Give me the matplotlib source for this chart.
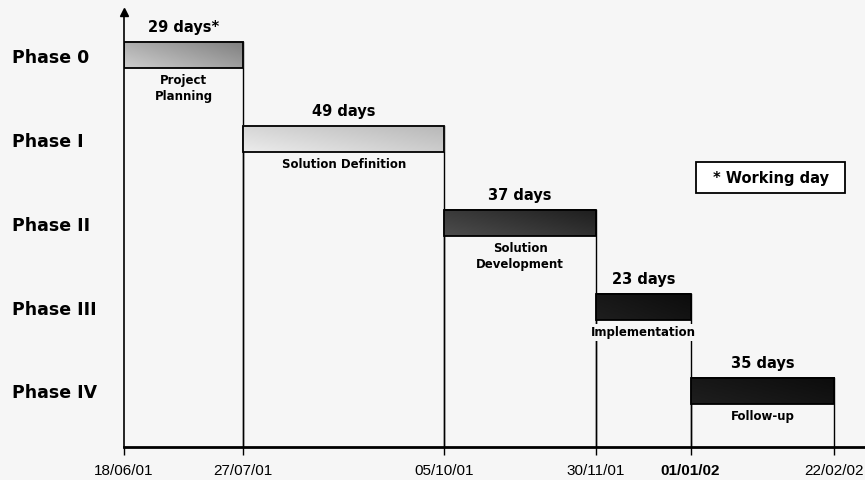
import numpy as np
import matplotlib
matplotlib.use("Agg")
import matplotlib.pyplot as plt
import matplotlib.transforms as mtransforms
from matplotlib.patches import Rectangle

# project schedule (durations in working days)
phases = ["Phase 0", "Phase I", "Phase II", "Phase III", "Phase IV"]
tasks = ["Project\nPlanning", "Solution Definition", "Solution\nDevelopment",
         "Implementation", "Follow-up"]
days = [29, 49, 37, 23, 35]
day_labels = ["29 days*", "49 days", "37 days", "23 days", "35 days"]
milestones = ["18/06/01", "27/07/01", "05/10/01", "30/11/01", "01/01/02", "22/02/02"]

# bar shading: (light, dark) grey levels of each bar's gradient
shades = [(0.80, 0.50), (0.92, 0.72), (0.30, 0.12), (0.12, 0.05), (0.12, 0.05)]

bg = "#f6f6f6"
bold = dict(fontweight="bold", family="DejaVu Sans")

fig = plt.figure(figsize=(8.65, 4.8), dpi=100, facecolor=bg)
ax = fig.add_axes([124 / 865, 1 - 447 / 480, 1 - 124 / 865, (447 - 12) / 480])
ax.set_facecolor("none")

starts = np.concatenate([[0], np.cumsum(days)[:-1]])
ends = np.cumsum(days)
bar_h = 0.32
y_bottom = 4.667

for i, (x0, d) in enumerate(zip(starts, days)):
    top, bot = i - bar_h / 2, i + bar_h / 2
    # diagonal gradient fill
    gx, gy = np.meshgrid(np.linspace(0, 1, 60), np.linspace(0, 1, 12))
    t = 0.6 * gx + 0.4 * (1 - gy)
    lo, hi = shades[i]
    grad = lo + (hi - lo) * t
    ax.imshow(grad, extent=(x0, x0 + d, bot, top), cmap="gray", vmin=0, vmax=1,
              aspect="auto", interpolation="bicubic", zorder=2)
    ax.add_patch(Rectangle((x0, top), d, bar_h, fill=False, edgecolor="black",
                           lw=1.3, zorder=3))
    # edges dropped to the time axis
    for xv in (x0, x0 + d):
        if xv > 0:
            ax.plot([xv, xv], [top, y_bottom], color="black", lw=1, zorder=1)
    ax.annotate(day_labels[i], (x0 + d / 2, top), xytext=(0, 5),
                textcoords="offset points", ha="center", va="bottom",
                fontsize=10.5, **bold)
    ax.annotate(tasks[i], (x0 + d / 2, bot), xytext=(0, -4),
                textcoords="offset points", ha="center", va="top",
                fontsize=8.5, linespacing=1.3, zorder=4,
                bbox=dict(boxstyle="square,pad=0.15", fc=bg, ec="none"), **bold)

# phase names on the left
tr = mtransforms.blended_transform_factory(fig.transFigure, ax.transData)
for i, name in enumerate(phases):
    ax.text(12 / 865, i + 0.03, name, transform=tr, ha="left", va="center",
            fontsize=12.5, **bold)

ax.set_xlim(0, 180.5)
ax.set_ylim(y_bottom, -0.512)

for s in ("top", "right"):
    ax.spines[s].set_visible(False)
ax.spines["left"].set_linewidth(1.2)
ax.spines["bottom"].set_linewidth(2)
ax.plot(0, 1, "^k", ms=6, transform=ax.get_xaxis_transform(), clip_on=False)

ax.set_yticks([])
ax.set_xticks(np.concatenate([[0], ends]))
ax.set_xticklabels(milestones, family="Liberation Sans", fontsize=11)
ax.get_xticklabels()[4].set_fontweight("bold")
ax.tick_params(axis="x", length=6, width=1, pad=6)

# footnote box
fig.add_artist(Rectangle((696 / 865, 1 - 193 / 480), 149 / 865, 31 / 480,
                         transform=fig.transFigure, fc="white", ec="black", lw=1.3))
fig.text(771 / 865, 1 - 178 / 480, "* Working day", ha="center", va="center",
         fontsize=10.5, **bold)

fig.savefig("out.png", dpi=100, facecolor=bg)
